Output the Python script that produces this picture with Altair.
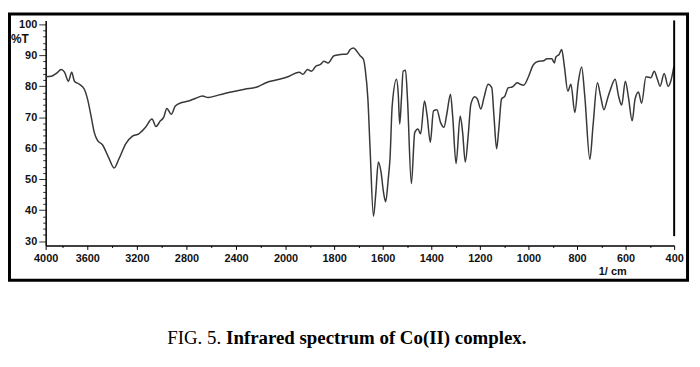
import altair as alt
import pandas as pd

# ---- data (wavenumber in 1/cm, transmittance in %T) ----
wn_high = [3936, 3890, 3850, 3810, 3784, 3752, 3726, 3704, 3664, 3624,
           3598, 3570, 3544, 3518, 3478, 3424, 3384, 3344, 3290, 3238,
           3184, 3130, 3078, 3046, 3010, 2984, 2958, 2922, 2890, 2838,
           2784, 2730, 2670, 2624, 2544, 2438, 2330, 2224]
t_high = [83.0, 83.2, 84.1, 85.4, 84.5, 81.6, 84.5, 81.6, 80.6, 79.0,
          75.8, 70.4, 65.1, 62.5, 61.1, 56.6, 53.6, 56.6, 61.4, 63.8,
          64.6, 66.7, 69.4, 67.0, 68.8, 69.9, 72.8, 70.9, 73.6, 74.7,
          75.2, 76.0, 76.8, 76.3, 77.1, 78.1, 79.0, 79.8]

wn_mid = [2158, 2050, 1985, 1944, 1928, 1910, 1893, 1876, 1856, 1842,
          1825, 1801, 1774, 1747, 1734, 1720, 1706, 1693, 1679, 1672,
          1661, 1652, 1638, 1629, 1618, 1607, 1597, 1588, 1577, 1570,
          1561, 1543, 1536, 1530, 1523, 1516, 1506, 1498, 1482, 1468,
          1455, 1444, 1428, 1417, 1404, 1391, 1377, 1362, 1348, 1335,
          1321, 1312, 1298, 1281, 1271, 1260, 1248, 1237, 1221]
t_mid = [81.1, 82.2, 83.2, 84.5, 83.8, 85.4, 84.8, 86.4, 87.0, 88.0,
         87.5, 89.8, 90.2, 90.4, 91.8, 92.3, 91.2, 89.8, 88.6, 85.4,
         75.8, 59.8, 38.0, 44.9, 55.5, 52.3, 45.9, 42.7, 50.2, 56.6,
         73.6, 82.2, 77.4, 67.8, 75.8, 84.8, 85.1, 75.8, 48.6, 65.1,
         66.2, 64.6, 75.2, 70.4, 61.9, 72.0, 72.4, 68.3, 66.7, 71.5,
         77.4, 70.4, 55.0, 70.4, 65.1, 55.5, 64.1, 74.2, 76.6]

wn_low = [1210, 1196, 1183, 1166, 1151, 1142, 1131, 1122, 1111, 1097,
          1083, 1067, 1046, 1033, 1020, 999, 979, 958, 938, 924,
          904, 893, 887, 874, 863, 852, 838, 825, 809, 795,
          781, 768, 747, 734, 716, 703, 689, 675, 662, 643,
          629, 616, 601, 588, 573, 561, 547, 534, 516, 496,
          482, 469, 458, 441, 425, 414, 401]
t_low = [75.8, 72.6, 76.3, 80.6, 79.5, 70.4, 59.8, 66.2, 75.8, 76.8,
         79.5, 79.7, 81.1, 80.6, 80.3, 83.2, 87.0, 88.0, 88.2, 88.8,
         88.8, 87.5, 89.4, 90.2, 91.8, 86.4, 78.4, 80.6, 71.5, 81.1,
         86.2, 76.8, 56.4, 67.3, 81.1, 76.8, 72.4, 75.8, 79.0, 82.2,
         76.8, 73.9, 81.6, 76.3, 68.8, 75.8, 78.1, 74.5, 83.0, 82.7,
         84.8, 82.2, 80.0, 84.1, 80.0, 81.6, 86.4]

# final vertical drop at 400 1/cm
end_wn = [400]
end_top = [101.2]
end_bottom = [31.6]

# axis ticks
x_major = [3936, 3600, 3200, 2800, 2400, 2000, 1800, 1600, 1400, 1200, 1000, 800, 600, 400]
x_minor = [3800, 3400, 3000, 2600, 2200, 1900, 1700, 1500, 1300, 1100, 900, 700, 500]
y_ticks = list(range(30, 101, 2))

caption_regular = "FIG. 5."
caption_bold = "Infrared spectrum of Co(II) complex."

# ---- build ----
df = pd.DataFrame({
    "wn": wn_high + wn_mid + wn_low,
    "T": t_high + t_mid + t_low,
})
df["order"] = range(len(df))
end_df = pd.DataFrame({"wn": end_wn, "top": end_top, "bottom": end_bottom})
one = pd.DataFrame({"k": [0]})

W, H = 634, 227
x_scale = alt.Scale(domain=[3936, 2000, 400], range=[0, 242, W], nice=False, zero=False)
y_scale = alt.Scale(domain=[28.6, 101.2], nice=False, zero=False)

tick_font = "Liberation Sans, Arial, sans-serif"

x_axis = alt.Axis(
    values=x_major + x_minor,
    format="d",
    labelExpr="datum.value > 3900 ? '4000' : (datum.value <= 2000 ? (datum.value % 200 === 0 ? datum.label : '') : (datum.value % 400 === 0 ? datum.label : ''))",
    tickSize={"condition": {"test": "datum.value > 3900 || (datum.value <= 2000 ? datum.value % 200 === 0 : datum.value % 400 === 0)", "value": 4}, "value": 2},
    title=None, grid=False,
    domainColor="black", domainWidth=1.5, tickColor="black", tickWidth=1,
    labelFont=tick_font, labelFontSize=11, labelFontWeight="bold", labelColor="#111",
    labelPadding=3, labelFlush=False, labelOverlap=False,
)
y_axis = alt.Axis(
    values=y_ticks,
    format="d",
    labelExpr="datum.value % 10 === 0 ? datum.label : ''",
    tickSize={"condition": {"test": "datum.value % 10 === 0", "value": 7}, "value": 3},
    title=None, grid=False,
    domainColor="black", domainWidth=1.5, tickColor="#333", tickWidth=1,
    labelFont=tick_font, labelFontSize=11, labelFontWeight="bold", labelColor="#111",
    labelPadding=2, labelOverlap=False, labelFlush=False,
)

spectrum = alt.Chart(df).mark_line(color="#383838", strokeWidth=1.5, interpolate="monotone").encode(
    x=alt.X("wn:Q", scale=x_scale, axis=x_axis),
    y=alt.Y("T:Q", scale=y_scale, axis=y_axis),
    order="order:Q",
)

end_line = alt.Chart(end_df).mark_rule(color="black", strokeWidth=2).encode(
    x=alt.X("wn:Q", scale=x_scale, axis=x_axis),
    y=alt.Y("bottom:Q", scale=y_scale, axis=y_axis),
    y2="top:Q",
)

frame = alt.Chart(one).mark_rect(fill="transparent", stroke="black", strokeWidth=3).encode(
    x=alt.value(-36.5), x2=alt.value(647.5), y=alt.value(-6.5), y2=alt.value(262),
)

pct_t = alt.Chart(one).mark_text(text="%T", align="left", baseline="middle",
                                 font=tick_font, fontSize=12, fontWeight="bold", color="#111").encode(
    x=alt.value(-35), y=alt.value(19))

unit = alt.Chart(one).mark_text(text="1/ cm", align="center", baseline="middle",
                                font=tick_font, fontSize=11, fontWeight="bold", color="#111").encode(
    x=alt.value(572), y=alt.value(254))

cap1 = alt.Chart(one).mark_text(text=caption_regular, align="right", baseline="alphabetic",
                                font="Liberation Serif, Times New Roman, serif", fontSize=19,
                                color="black").encode(x=alt.value(177), y=alt.value(326))
cap2 = alt.Chart(one).mark_text(text=caption_bold, align="left", baseline="alphabetic",
                                font="Liberation Serif, Times New Roman, serif", fontSize=19,
                                fontWeight="bold", color="black").encode(x=alt.value(182), y=alt.value(326))

chart = alt.layer(frame, spectrum, end_line, pct_t, unit, cap1, cap2).properties(
    width=W, height=H,
    padding={"left": 38, "top": 11, "right": 18, "bottom": 112},
    autosize="none",
    background="white",
).configure_view(stroke=None).configure_axis(labelOverlap=False)

chart.save("out.html", embed_options={"renderer": "svg", "actions": False})
